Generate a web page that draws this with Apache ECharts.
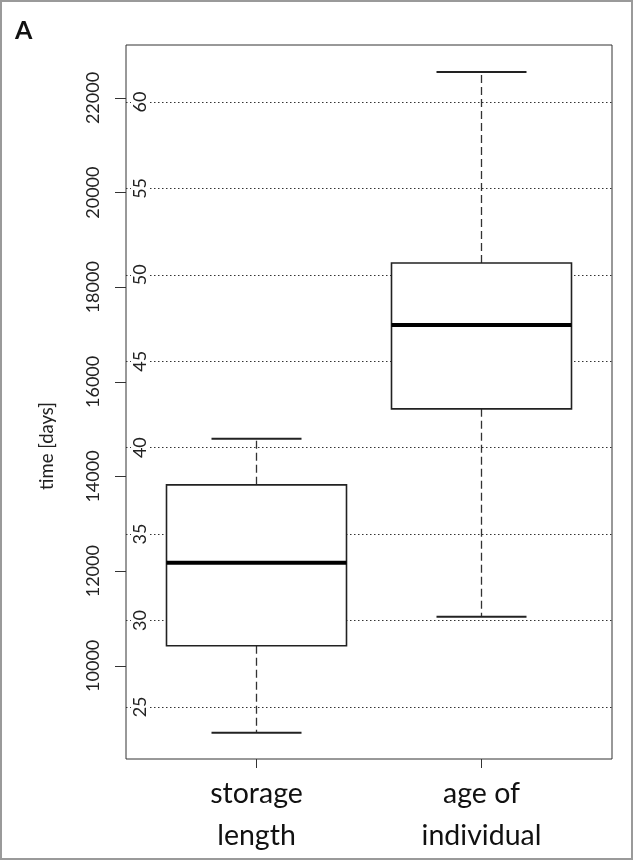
<!DOCTYPE html>
<html>
<head>
<meta charset="utf-8">
<script src="https://cdn.jsdelivr.net/npm/echarts@6/dist/echarts.min.js"></script>
<style>
html,body{margin:0;padding:0;background:#fff;}
#chart{width:633px;height:860px;box-sizing:border-box;border:2px solid #9a9a9a;}
</style>
</head>
<body>
<div id="chart"></div>
<script>
// Data (days)
const categories = ['storage\nlength', 'age of\nindividual'];
const lowWhisker = [8585, 11035];
const q1 = [10423, 15430];
const median = [12176, 17204];
const q3 = [13824, 18514];
const highWhisker = [14796, 22549];
const dayTicks = [10000, 12000, 14000, 16000, 18000, 20000, 22000];
const yearTicks = [25, 30, 35, 40, 45, 50, 55, 60];
const DAYS_PER_YEAR = 365.25;
const yMin = 8030, yMax = 23120;

const FONT = 'Lato';
const boxData = categories.map((c, i) => [i + 1, lowWhisker[i], q1[i], median[i], q3[i], highWhisker[i]]);

const chart = echarts.init(document.getElementById('chart'), null, {renderer: 'canvas'});
chart.setOption({
  animation: false,
  backgroundColor: '#fff',
  title: {text: 'A', left: 8, top: 11, textStyle: {fontFamily: FONT, fontWeight: 'bold', fontSize: 25, color: '#111'}},
  grid: {left: 124, right: 19, top: 43, bottom: 99, show: true, borderColor: '#333', borderWidth: 1, backgroundColor: 'transparent'},
  xAxis: {
    type: 'value', min: 0.42, max: 2.58,
    axisLine: {show: false},
    splitLine: {show: false},
    axisTick: {show: true, customValues: [1, 2], length: 9, lineStyle: {color: '#333'}},
    axisLabel: {customValues: [1, 2], formatter: v => categories[Math.round(v) - 1] || '',
      fontFamily: FONT, fontSize: 28.5, lineHeight: 42, color: '#111', margin: 14}
  },
  yAxis: [
    {
      type: 'value', min: yMin, max: yMax, position: 'left',
      axisLine: {show: false},
      splitLine: {show: false},
      axisTick: {show: true, customValues: dayTicks, length: 11, lineStyle: {color: '#333'}},
      axisLabel: {customValues: dayTicks, formatter: v => String(v), rotate: 90, fontFamily: FONT, fontSize: 18, color: '#222', margin: 24}
    },
    {
      type: 'value', min: yMin / DAYS_PER_YEAR, max: yMax / DAYS_PER_YEAR, position: 'left',
      axisLine: {show: false},
      axisTick: {show: false, customValues: yearTicks},
      splitLine: {show: true, lineStyle: {color: '#333', type: [1.5, 2.5], width: 1}},
      axisLabel: {customValues: yearTicks, inside: true, rotate: 90, fontFamily: FONT, fontSize: 18, color: '#222', margin: 5,
        backgroundColor: '#fff'}
    }
  ],
  graphic: [{
    type: 'text', x: 45, y: 444, rotation: Math.PI / 2,
    style: {text: 'time [days]', fontFamily: FONT, fontSize: 18.5, fill: '#222', align: 'center', verticalAlign: 'middle'}
  }],
  series: [{
    type: 'custom',
    xAxisIndex: 0, yAxisIndex: 0,
    data: boxData,
    encode: {x: 0, y: [1, 2, 3, 4, 5]},
    renderItem: function (params, api) {
      const x = api.value(0);
      const lo = api.coord([x, api.value(1)]);
      const b1 = api.coord([x, api.value(2)]);
      const md = api.coord([x, api.value(3)]);
      const b3 = api.coord([x, api.value(4)]);
      const hi = api.coord([x, api.value(5)]);
      const w = api.size([0.8, 0])[0];
      const cw = w / 4;
      const cx = lo[0];
      const dash = {stroke: '#333', lineWidth: 1.3, lineDash: [8, 4]};
      const solid = {stroke: '#222', lineWidth: 2};
      return {type: 'group', children: [
        {type: 'line', shape: {x1: cx, y1: b3[1], x2: cx, y2: hi[1]}, style: dash},
        {type: 'line', shape: {x1: cx, y1: b1[1], x2: cx, y2: lo[1]}, style: dash},
        {type: 'line', shape: {x1: cx - cw, y1: hi[1], x2: cx + cw, y2: hi[1]}, style: solid},
        {type: 'line', shape: {x1: cx - cw, y1: lo[1], x2: cx + cw, y2: lo[1]}, style: solid},
        {type: 'rect', shape: {x: cx - w / 2, y: b3[1], width: w, height: b1[1] - b3[1]}, style: {fill: '#fff', stroke: '#222', lineWidth: 1.6}},
        {type: 'line', shape: {x1: cx - w / 2, y1: md[1], x2: cx + w / 2, y2: md[1]}, style: {stroke: '#000', lineWidth: 4}}
      ]};
    }
  }]
});
</script>
</body>
</html>
